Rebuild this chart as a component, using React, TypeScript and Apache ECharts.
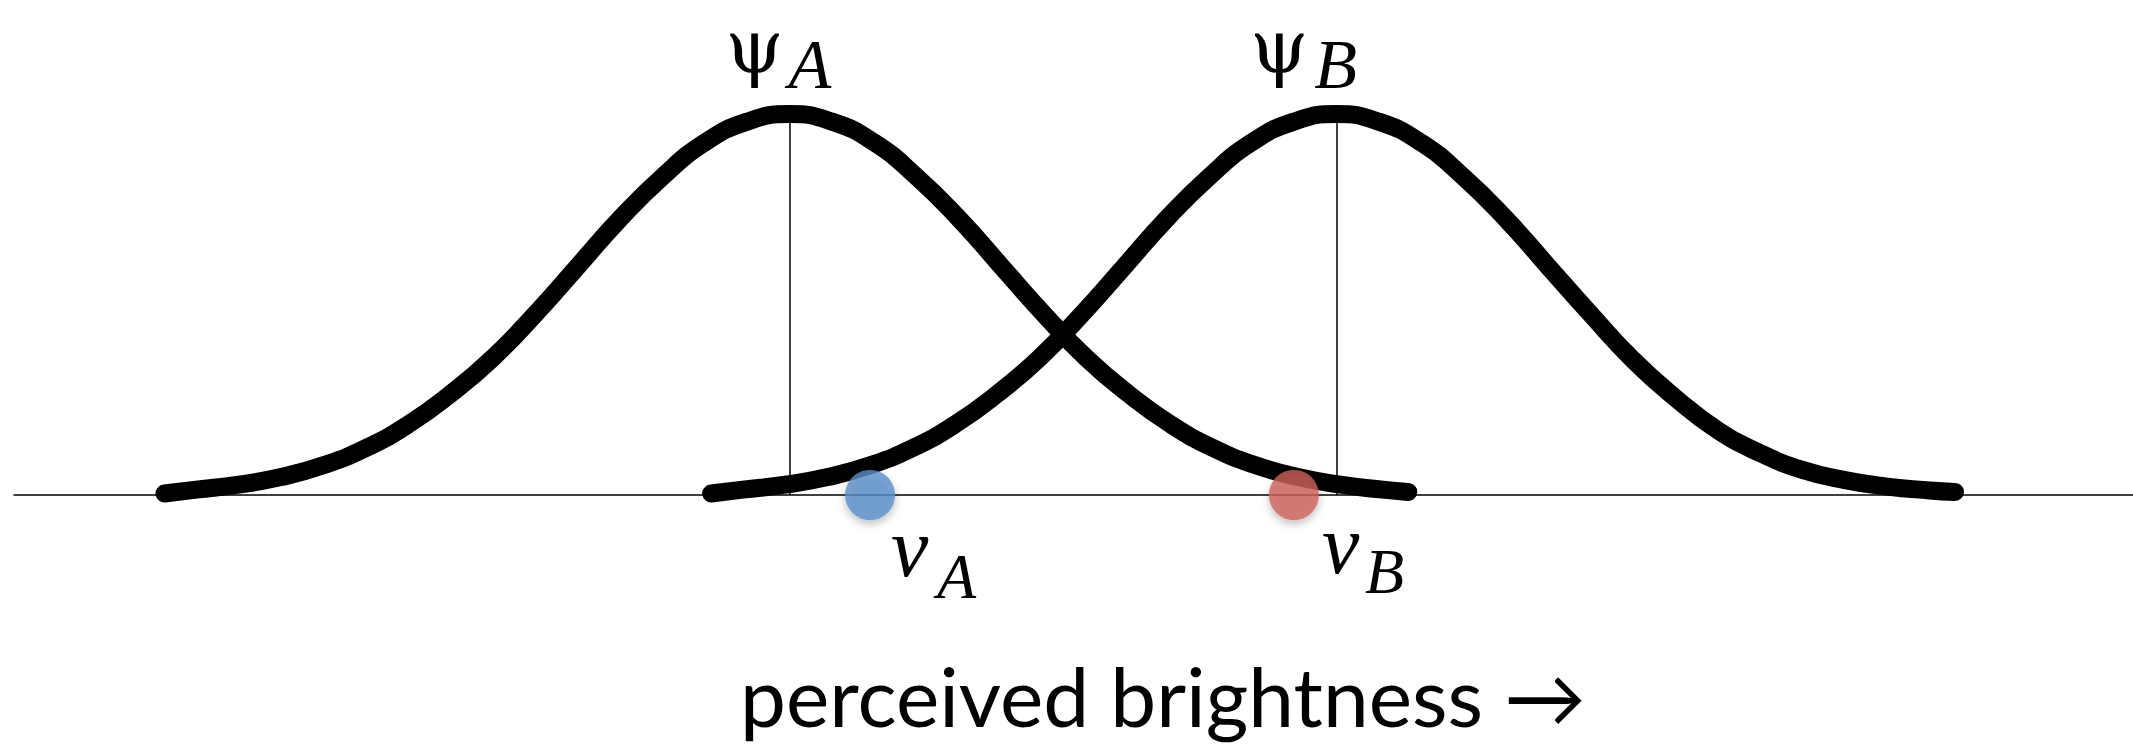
import React, { useEffect, useRef } from "react";
import * as echarts from "echarts";

// Perceived-brightness axis (arbitrary units) and relative density scale
const brightnessRange = [0, 100];
const densityRange = [0, 100];

// Internal (noisy) response distribution of stimulus A: [brightness, density]
const curveA: [number, number][] = [
  [7.1, 0.4], [8.6, 1.4], [10.6, 2.7], [12.6, 4.7], [14.6, 7.8], [16.6, 12.3],
  [18.6, 18.5], [20.6, 26.5], [22.6, 36.0], [24.6, 47.5], [26.6, 60.0], [28.6, 72.5],
  [30.6, 83.5], [32.6, 92.5], [34.6, 98.0], [36.6, 100], [38.6, 98.0], [40.6, 92.5],
  [42.6, 83.5], [44.6, 72.5], [46.6, 60.0], [48.6, 47.5], [50.6, 36.0], [52.6, 26.5],
  [54.6, 18.5], [56.6, 12.3], [58.6, 7.8], [60.6, 4.7], [62.6, 2.7], [64.6, 1.4],
  [65.8, 0.8],
];

// Internal response distribution of stimulus B
const curveB: [number, number][] = [
  [32.9, 0.4], [34.4, 1.4], [36.4, 2.7], [38.4, 4.7], [40.4, 7.8], [42.4, 12.3],
  [44.4, 18.5], [46.4, 26.5], [48.4, 36.0], [50.4, 47.5], [52.4, 60.0], [54.4, 72.5],
  [56.4, 83.5], [58.4, 92.5], [60.4, 98.0], [62.4, 100], [64.4, 98.0], [66.4, 92.5],
  [68.4, 83.5], [70.4, 72.5], [72.4, 60.0], [74.4, 47.5], [76.4, 35.5], [78.4, 25.5],
  [80.4, 17.0], [82.4, 11.0], [84.4, 6.6], [86.4, 3.9], [88.4, 2.2], [90.4, 1.2],
  [91.6, 0.8],
];

// Means (ψ) of the two distributions and the single sampled values (v)
const stimulusNames = ["A", "B"];
const meanValues = [36.6, 62.4];
const peakValues = [100, 100];
const sampleValues = [40.4, 60.4];

const axisTitle = "perceived brightness \u2192";

const SAMPLE_COLORS = ["#5B8FC8", "#CD635A"];
const SERIF = "'Liberation Serif', 'DejaVu Serif', serif";
const PSI_FONT = "'DejaVu Serif', 'Liberation Serif', serif";

export default function App() {
  const ref = useRef<HTMLDivElement>(null);

  useEffect(() => {
    const chart = echarts.init(ref.current!, null, { renderer: "svg" });

    const curveSeries = (name: string, data: [number, number][], i: number) => ({
      name,
      type: "line",
      data,
      smooth: 0.5,
      showSymbol: false,
      symbol: "none",
      clip: false,
      silent: true,
      z: 3,
      lineStyle: { color: "#000", width: 18, cap: "round", join: "round" },
      markLine: {
        silent: true,
        symbol: ["none", "none"],
        label: { show: false },
        lineStyle: { color: "#000", width: 1.5, type: "solid" },
        data: [[{ coord: [meanValues[i], 0] }, { coord: [meanValues[i], peakValues[i]] }]],
      },
    });

    chart.setOption({
      animation: false,
      backgroundColor: "#fff",
      grid: { left: 14, right: 0, top: 114, bottom: 249 },
      xAxis: {
        type: "value",
        min: brightnessRange[0],
        max: brightnessRange[1],
        axisLine: { show: true, onZero: false, lineStyle: { color: "#000", width: 1.5 } },
        axisTick: { show: false },
        axisLabel: { show: false },
        splitLine: { show: false },
      },
      yAxis: {
        type: "value",
        min: densityRange[0],
        max: densityRange[1],
        show: false,
        splitLine: { show: false },
      },
      series: [
        curveSeries("A", curveA, 0),
        curveSeries("B", curveB, 1),
        {
          name: "samples",
          type: "scatter",
          clip: false,
          silent: true,
          z: 5,
          symbolSize: 50,
          data: sampleValues.map((v, i) => ({
            value: [v, 0],
            itemStyle: {
              color: SAMPLE_COLORS[i],
              shadowBlur: 8,
              shadowOffsetY: 4,
              shadowColor: "rgba(0,0,0,0.3)",
            },
          })),
        },
      ],
    });

    // Symbol + subscript labels anchored to the peaks (ψ) and the samples (v)
    const psiOffsets = [
      { sym: [-64, -68], sub: [-1, -50] },
      { sym: [-86, -68], sub: [-22, -50] },
    ];
    const vOffsets = [
      { sym: [21, 52], sub: [67, 81] },
      { sym: [28, 49], sub: [71, 76] },
    ];

    const txt = (
      x: number,
      y: number,
      text: string,
      size: number,
      italic: boolean,
      family = SERIF
    ) => ({
      type: "text",
      x,
      y,
      silent: true,
      style: {
        text,
        fontSize: size,
        lineHeight: Math.round(size * 0.8),
        fontFamily: family,
        fontStyle: italic ? "italic" : "normal",
        fill: "#000",
        align: "left",
        verticalAlign: "middle",
      },
    });

    const graphics: any[] = [];
    stimulusNames.forEach((name, i) => {
      const peak = chart.convertToPixel({ gridIndex: 0 }, [meanValues[i], peakValues[i]]);
      const o = psiOffsets[i];
      graphics.push(txt(peak[0] + o.sym[0], peak[1] + o.sym[1], "\u03C8", 74, false, PSI_FONT));
      graphics.push(txt(peak[0] + o.sub[0], peak[1] + o.sub[1], name, 70, true));

      const s = chart.convertToPixel({ gridIndex: 0 }, [sampleValues[i], 0]);
      const v = vOffsets[i];
      graphics.push(txt(s[0] + v.sym[0], s[1] + v.sym[1], "v", 84, true));
      graphics.push(txt(s[0] + v.sub[0], s[1] + v.sub[1], name, 64, true));
    });

    graphics.push({
      type: "text",
      x: 1163,
      y: 695,
      silent: true,
      style: {
        text: axisTitle,
        fontSize: 82,
        lineHeight: 82,
        fontFamily: "Lato, 'Open Sans', sans-serif",
        fill: "#000",
        align: "center",
        verticalAlign: "middle",
      },
    });

    chart.setOption({ graphic: graphics });

    return () => chart.dispose();
  }, []);

  return (
    <div
      ref={ref}
      style={{ position: "absolute", left: 0, top: 0, width: 2133, height: 744, background: "#fff" }}
    />
  );
}
